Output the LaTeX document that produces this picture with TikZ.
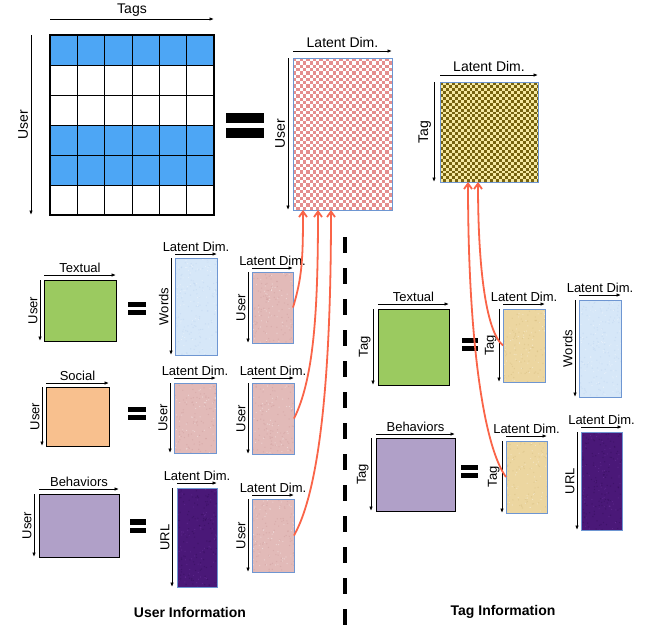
\documentclass[tikz,border=0pt]{standalone}
\usepackage{fontspec}
\setmainfont{Liberation Sans}
\usetikzlibrary{arrows.meta}

\definecolor{cellblue}{RGB}{77,166,245}
\definecolor{chkpink}{RGB}{228,142,142}
\definecolor{chkolive}{RGB}{118,98,14}
\definecolor{chkcream}{RGB}{246,232,160}
\definecolor{fillgreen}{RGB}{155,202,96}
\definecolor{fillorange}{RGB}{248,192,142}
\definecolor{filllilac}{RGB}{176,160,200}
\definecolor{texblue}{RGB}{214,231,248}
\definecolor{texblueA}{RGB}{180,206,238}
\definecolor{texpink}{RGB}{226,186,184}
\definecolor{texpinkA}{RGB}{200,148,148}
\definecolor{texviolet}{RGB}{74,24,120}
\definecolor{texvioletA}{RGB}{42,10,78}
\definecolor{texvioletB}{RGB}{122,62,172}
\definecolor{textan}{RGB}{236,214,160}
\definecolor{textanA}{RGB}{206,180,116}
\definecolor{edgeblue}{RGB}{110,150,210}
\definecolor{linkred}{RGB}{250,100,72}

\tikzset{
  matbox/.style={draw=black, line width=1pt, inner sep=0pt, outer sep=0pt},
  texbox/.style={draw=edgeblue, line width=0.9pt, inner sep=0pt, outer sep=0pt},
  eqbar/.style={fill=black, inner sep=0pt, outer sep=0pt},
  dimarrow/.style={-{Latex[length=4.5pt,width=3.6pt]}, line width=0.9pt},
  lbl/.style={font=\fontsize{13}{15}\selectfont, inner sep=2pt},
  biglbl/.style={font=\fontsize{14}{16}\selectfont, inner sep=2.5pt},
  capt/.style={font=\bfseries\fontsize{14}{16}\selectfont},
  link/.style={draw=linkred, line width=1.8pt, -{Straight Barb[length=5.5pt,width=8pt]}},
  separator/.style={line width=4pt, dash pattern=on 16pt off 15pt},
  % 6x6 rating grid with shaded rows
  gridmat/.style={draw=black, line width=1.2pt, inner sep=0pt, outer sep=0pt,
    path picture={
      \foreach \r in {0,3,4}
        \fill[cellblue] ([yshift={-\r*30pt}]path picture bounding box.north west) rectangle ++(164pt,-30pt);
      \foreach \c in {1,...,5}
        \draw[line width=1pt] ([xshift={\c*164pt/6}]path picture bounding box.north west) -- ++(0pt,-180pt);
      \foreach \r in {1,...,5}
        \draw[line width=1pt] ([yshift={-\r*30pt}]path picture bounding box.north west) -- ++(164pt,0pt);
    }},
  % checkerboard: square colour, ground colour, square size, column pairs, rows
  checker/.style n args={5}{fill=#2,
    path picture={
      \foreach \r in {0,...,#5}{
        \foreach \c in {0,...,#4}{
          \fill[#1] ([xshift={(2*\c+mod(\r,2))*#3}, yshift={-\r*#3}]path picture bounding box.north west) rectangle ++(#3,-#3);
        }
      }
    }},
  % speckled paper: ground colour, dark fleck colour, light fleck colour
  speckle/.style n args={3}{fill=#1,
    path picture={
      \foreach \k in {1,...,150}
        \fill[#2, opacity=0.35] ([xshift={rnd*46pt}, yshift={-rnd*102pt}]path picture bounding box.north west) circle (0.7pt);
      \foreach \k in {1,...,90}
        \fill[#3, opacity=0.4] ([xshift={rnd*46pt}, yshift={-rnd*102pt}]path picture bounding box.north west) circle (0.6pt);
    }},
  pinkpaper/.style={texbox, speckle={texpink}{texpinkA}{white}},
  bluepaper/.style={texbox, speckle={texblue}{texblueA}{white}},
  violetpaper/.style={texbox, speckle={texviolet}{texvioletA}{texvioletB}},
  tanpaper/.style={texbox, speckle={textan}{textanA}{white}},
}

% box from its corners: name, style, x1, y1, x2, y2
\newcommand\placebox[6]{%
  \pgfmathsetmacro\pbw{#5-#3}%
  \pgfmathsetmacro\pbh{#6-#4}%
  \node[#2, minimum width=\pbw pt, minimum height=\pbh pt] (#1) at ({(#3+#5)/2},{(#4+#6)/2}) {};%
}
% dimension arrow above a box: node, gap, label style, text
\newcommand\hdim[4]{%
  \draw[dimarrow] ([yshift=#2pt]#1.north west) -- ([yshift=#2pt]#1.north east)
    node[midway, above, #3] {#4};%
}
% dimension arrow left of a box: node, gap, label style, text
\newcommand\vdim[4]{%
  \draw[dimarrow] ([xshift=-#2pt]#1.north west) -- ([xshift=-#2pt]#1.south west)
    node[midway, rotate=90, anchor=south, #3] {#4};%
}

\begin{document}
\begin{tikzpicture}[x=1pt, y=-1pt]
\pgfmathsetseed{31}
\fill[white] (0,0) rectangle (652,630);
\useasboundingbox (0,0) rectangle (652,630);

% user-tag matrix
\placebox{M}{gridmat}{50}{35}{214}{215}
\hdim{M}{16}{biglbl}{Tags}
\vdim{M}{19}{biglbl}{User}

\placebox{eqTopA}{eqbar}{226}{113}{264}{123}
\placebox{eqTopB}{eqbar}{226}{128}{264}{138}

% user latent factors
\placebox{U}{texbox, checker={chkpink}{white}{3.3pt}{15}{46}}{293}{58}{392}{210}
\hdim{U}{7}{biglbl}{Latent Dim.}
\vdim{U}{5}{biglbl}{User}

% tag latent factors
\placebox{T}{texbox, checker={chkolive}{chkcream}{2.95pt}{16}{34}}{440}{82}{538}{182}
\hdim{T}{7}{biglbl}{Latent Dim.}
\vdim{T}{6}{biglbl}{Tag}

% ---- user information ----
\placebox{UtxtM}{matbox, fill=fillgreen}{44}{280}{116}{341}
\hdim{UtxtM}{5}{lbl}{Textual}
\vdim{UtxtM}{4}{lbl}{User}
\placebox{eqUa1}{eqbar}{128}{302}{146}{307}
\placebox{eqUa2}{eqbar}{128}{310}{146}{315}
\placebox{Wu}{bluepaper}{175}{258}{217}{355}
\hdim{Wu}{4}{lbl}{Latent Dim.}
\vdim{Wu}{4}{lbl}{Words}
\placebox{Ua}{pinkpaper}{252}{272}{293}{343}
\hdim{Ua}{4}{lbl}{Latent Dim.}
\vdim{Ua}{4}{lbl}{User}

\placebox{UsocM}{matbox, fill=fillorange}{46}{387}{109}{446}
\hdim{UsocM}{4}{lbl}{Social}
\vdim{UsocM}{4}{lbl}{User}
\placebox{eqUb1}{eqbar}{128}{407}{146}{412}
\placebox{eqUb2}{eqbar}{128}{415}{146}{420}
\placebox{Us}{pinkpaper}{174}{383}{216}{453}
\hdim{Us}{5}{lbl}{Latent Dim.}
\vdim{Us}{4}{lbl}{User}
\placebox{Ub}{pinkpaper}{252}{383}{294}{454}
\hdim{Ub}{5}{lbl}{Latent Dim.}
\vdim{Ub}{4}{lbl}{User}

\placebox{UbehM}{matbox, fill=filllilac}{39}{494}{119}{557}
\hdim{UbehM}{5}{lbl}{Behaviors}
\vdim{UbehM}{5}{lbl}{User}
\placebox{eqUc1}{eqbar}{130}{519}{146}{525}
\placebox{eqUc2}{eqbar}{130}{528}{146}{533}
\placebox{Vu}{violetpaper}{177}{488}{217}{587}
\hdim{Vu}{5}{lbl}{Latent Dim.}
\vdim{Vu}{5}{lbl}{URL}
\placebox{Uc}{pinkpaper}{252}{499}{294}{572}
\hdim{Uc}{4}{lbl}{Latent Dim.}
\vdim{Uc}{4}{lbl}{User}

% ---- tag information ----
\placebox{TtxtM}{matbox, fill=fillgreen}{378}{309}{449}{385}
\hdim{TtxtM}{5}{lbl}{Textual}
\vdim{TtxtM}{5}{lbl}{Tag}
\placebox{eqTa1}{eqbar}{462}{338}{478}{343}
\placebox{eqTa2}{eqbar}{462}{346}{478}{351}
\placebox{Ta}{tanpaper}{503}{309}{545}{382}
\hdim{Ta}{5}{lbl}{Latent Dim.}
\vdim{Ta}{4}{lbl}{Tag}
\placebox{Wt}{bluepaper}{579}{300}{621}{397}
\hdim{Wt}{5}{lbl}{Latent Dim.}
\vdim{Wt}{4}{lbl}{Words}

\placebox{TbehM}{matbox, fill=filllilac}{376}{438}{455}{511}
\hdim{TbehM}{4}{lbl}{Behaviors}
\vdim{TbehM}{5}{lbl}{Tag}
\placebox{eqTb1}{eqbar}{461}{465}{478}{470}
\placebox{eqTb2}{eqbar}{461}{473}{478}{478}
\placebox{Tb}{tanpaper}{506}{441}{547}{513}
\hdim{Tb}{5}{lbl}{Latent Dim.}
\vdim{Tb}{4}{lbl}{Tag}
\placebox{Vt}{violetpaper}{581}{432}{622}{530}
\hdim{Vt}{5}{lbl}{Latent Dim.}
\vdim{Vt}{4}{lbl}{URL}

% separator and captions
\coordinate (sepTop) at (345,237);
\coordinate (sepBot) at (345,626);
\draw[separator] (sepTop) -- (sepBot);
\node[capt] (uinfo) at (190,612) {User Information};
\node[capt] (tinfo) at (503,612) {Tag Information};

% shared latent factors
\draw[link] (Ua.east) .. controls +(9,-30) and +(0,50) .. ([xshift=10pt]U.south west);
\draw[link] (Ub.east) .. controls +(20,-40) and +(0,100) .. ([xshift=25pt]U.south west);
\draw[link] (Uc.east) .. controls +(28,-50) and +(0,150) .. ([xshift=38pt]U.south west);
\draw[link] (Ta.west) .. controls +(-18,-15) and +(0,80) .. ([xshift=38pt]T.south west);
\draw[link] (Tb.west) .. controls +(-22,-30) and +(0,160) .. ([xshift=28pt]T.south west);
\end{tikzpicture}
\end{document}
